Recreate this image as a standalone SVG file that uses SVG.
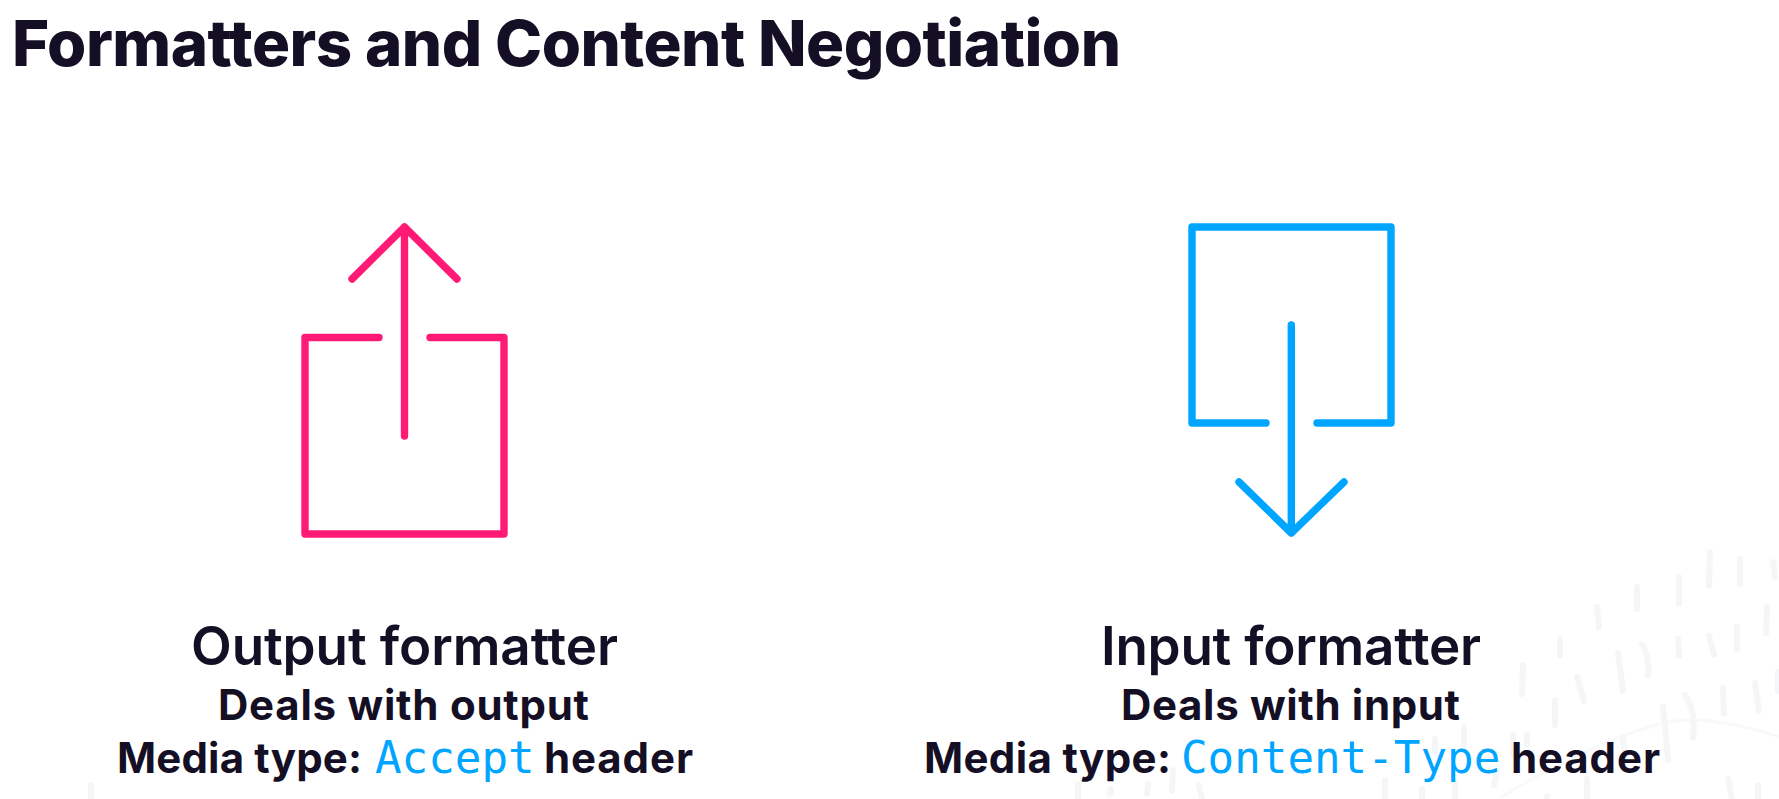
<svg xmlns="http://www.w3.org/2000/svg" width="1779" height="799" viewBox="0 0 1779 799">
<style>
text{font-family:"Inter","Noto Sans",sans-serif;fill:#140f25;font-weight:700}
.t{font-size:63.5px;font-weight:800}
.h{font-size:53px;font-weight:600}
.s{font-size:42px}
.m{font-family:"DejaVu Sans Mono","Liberation Mono",monospace;font-size:44.2px;font-weight:400;fill:#00a5ff}
.i{fill:none;stroke-width:7.4;stroke-linecap:round;stroke-linejoin:round}
.d{fill:none;stroke:#f5f6f8;stroke-width:6;stroke-linecap:round}
.a{fill:none;stroke:#f8f9fa;stroke-width:3}
</style>
<rect width="1779" height="799" fill="#fff"/>
<g id="background">
<path class="a" d="M1500 798Q1590 742 1667 722Q1710 714 1779 737"/>
<path class="d" d="M1710 552L1709 586M1740 559V584M1773 562L1775 577M1679 577V604M1637 587V609M1597 607L1599 627M1767 607L1766 633M1737 627V650M1709 636L1714 655M1678 639L1679 656M1560 639V656M1642 644Q1650 657 1648 675M1618 653L1623 691M1523 665L1522 694M1577 677L1584 701M1755 683L1759 711M1723 688L1724 714M1778 672V691M1555 700V725M1685 695Q1696 710 1693 738M1663 707L1668 760M1527 734V745M1623 737L1624 748M1728 779L1732 799M1758 785V799M1587 779V799M1464 727V745M1435 739V752M1513 735V755M1422 789V799M1455 782V799M1497 772L1494 785M1547 796V799M1078 784V799M1111 789L1110 794M1148 784L1147 794M1173 770L1172 791M1199 785L1202 799M1385 780V799M91 785V799"/>
</g>
<text id="title" class="t" x="12" y="66" textLength="1109" lengthAdjust="spacing">Formatters and Content Negotiation</text>
<g id="output-icon" class="i" stroke="#ff1a75">
<path d="M379 337.5H305V534H504V337.5H430M404.5 436V227M352 279L404.5 227L457 279"/>
</g>
<g id="input-icon" class="i" stroke="#00a5ff">
<path d="M1266 423H1192V227H1391V423H1317M1291.3 325V533M1239 482L1291.3 533L1344 482"/>
</g>
<g id="output-text">
<text class="h" x="191" y="665" textLength="427" lengthAdjust="spacing">Output formatter</text>
<text class="s" x="218" y="720" textLength="371" lengthAdjust="spacing">Deals with output</text>
<text class="s" x="117" y="773" textLength="245" lengthAdjust="spacing">Media type:</text>
<text class="m" x="375" y="773">Accept</text>
<text class="s" x="544" y="773" textLength="149" lengthAdjust="spacing">header</text>
</g>
<g id="input-text">
<text class="h" x="1101" y="665" textLength="380" lengthAdjust="spacing">Input formatter</text>
<text class="s" x="1121" y="720" textLength="339" lengthAdjust="spacing">Deals with input</text>
<text class="s" x="924" y="773" textLength="247" lengthAdjust="spacing">Media type:</text>
<text class="m" x="1181" y="773">Content-Type</text>
<text class="s" x="1511" y="773" textLength="149" lengthAdjust="spacing">header</text>
</g>
<g id="connectors"/>
</svg>
